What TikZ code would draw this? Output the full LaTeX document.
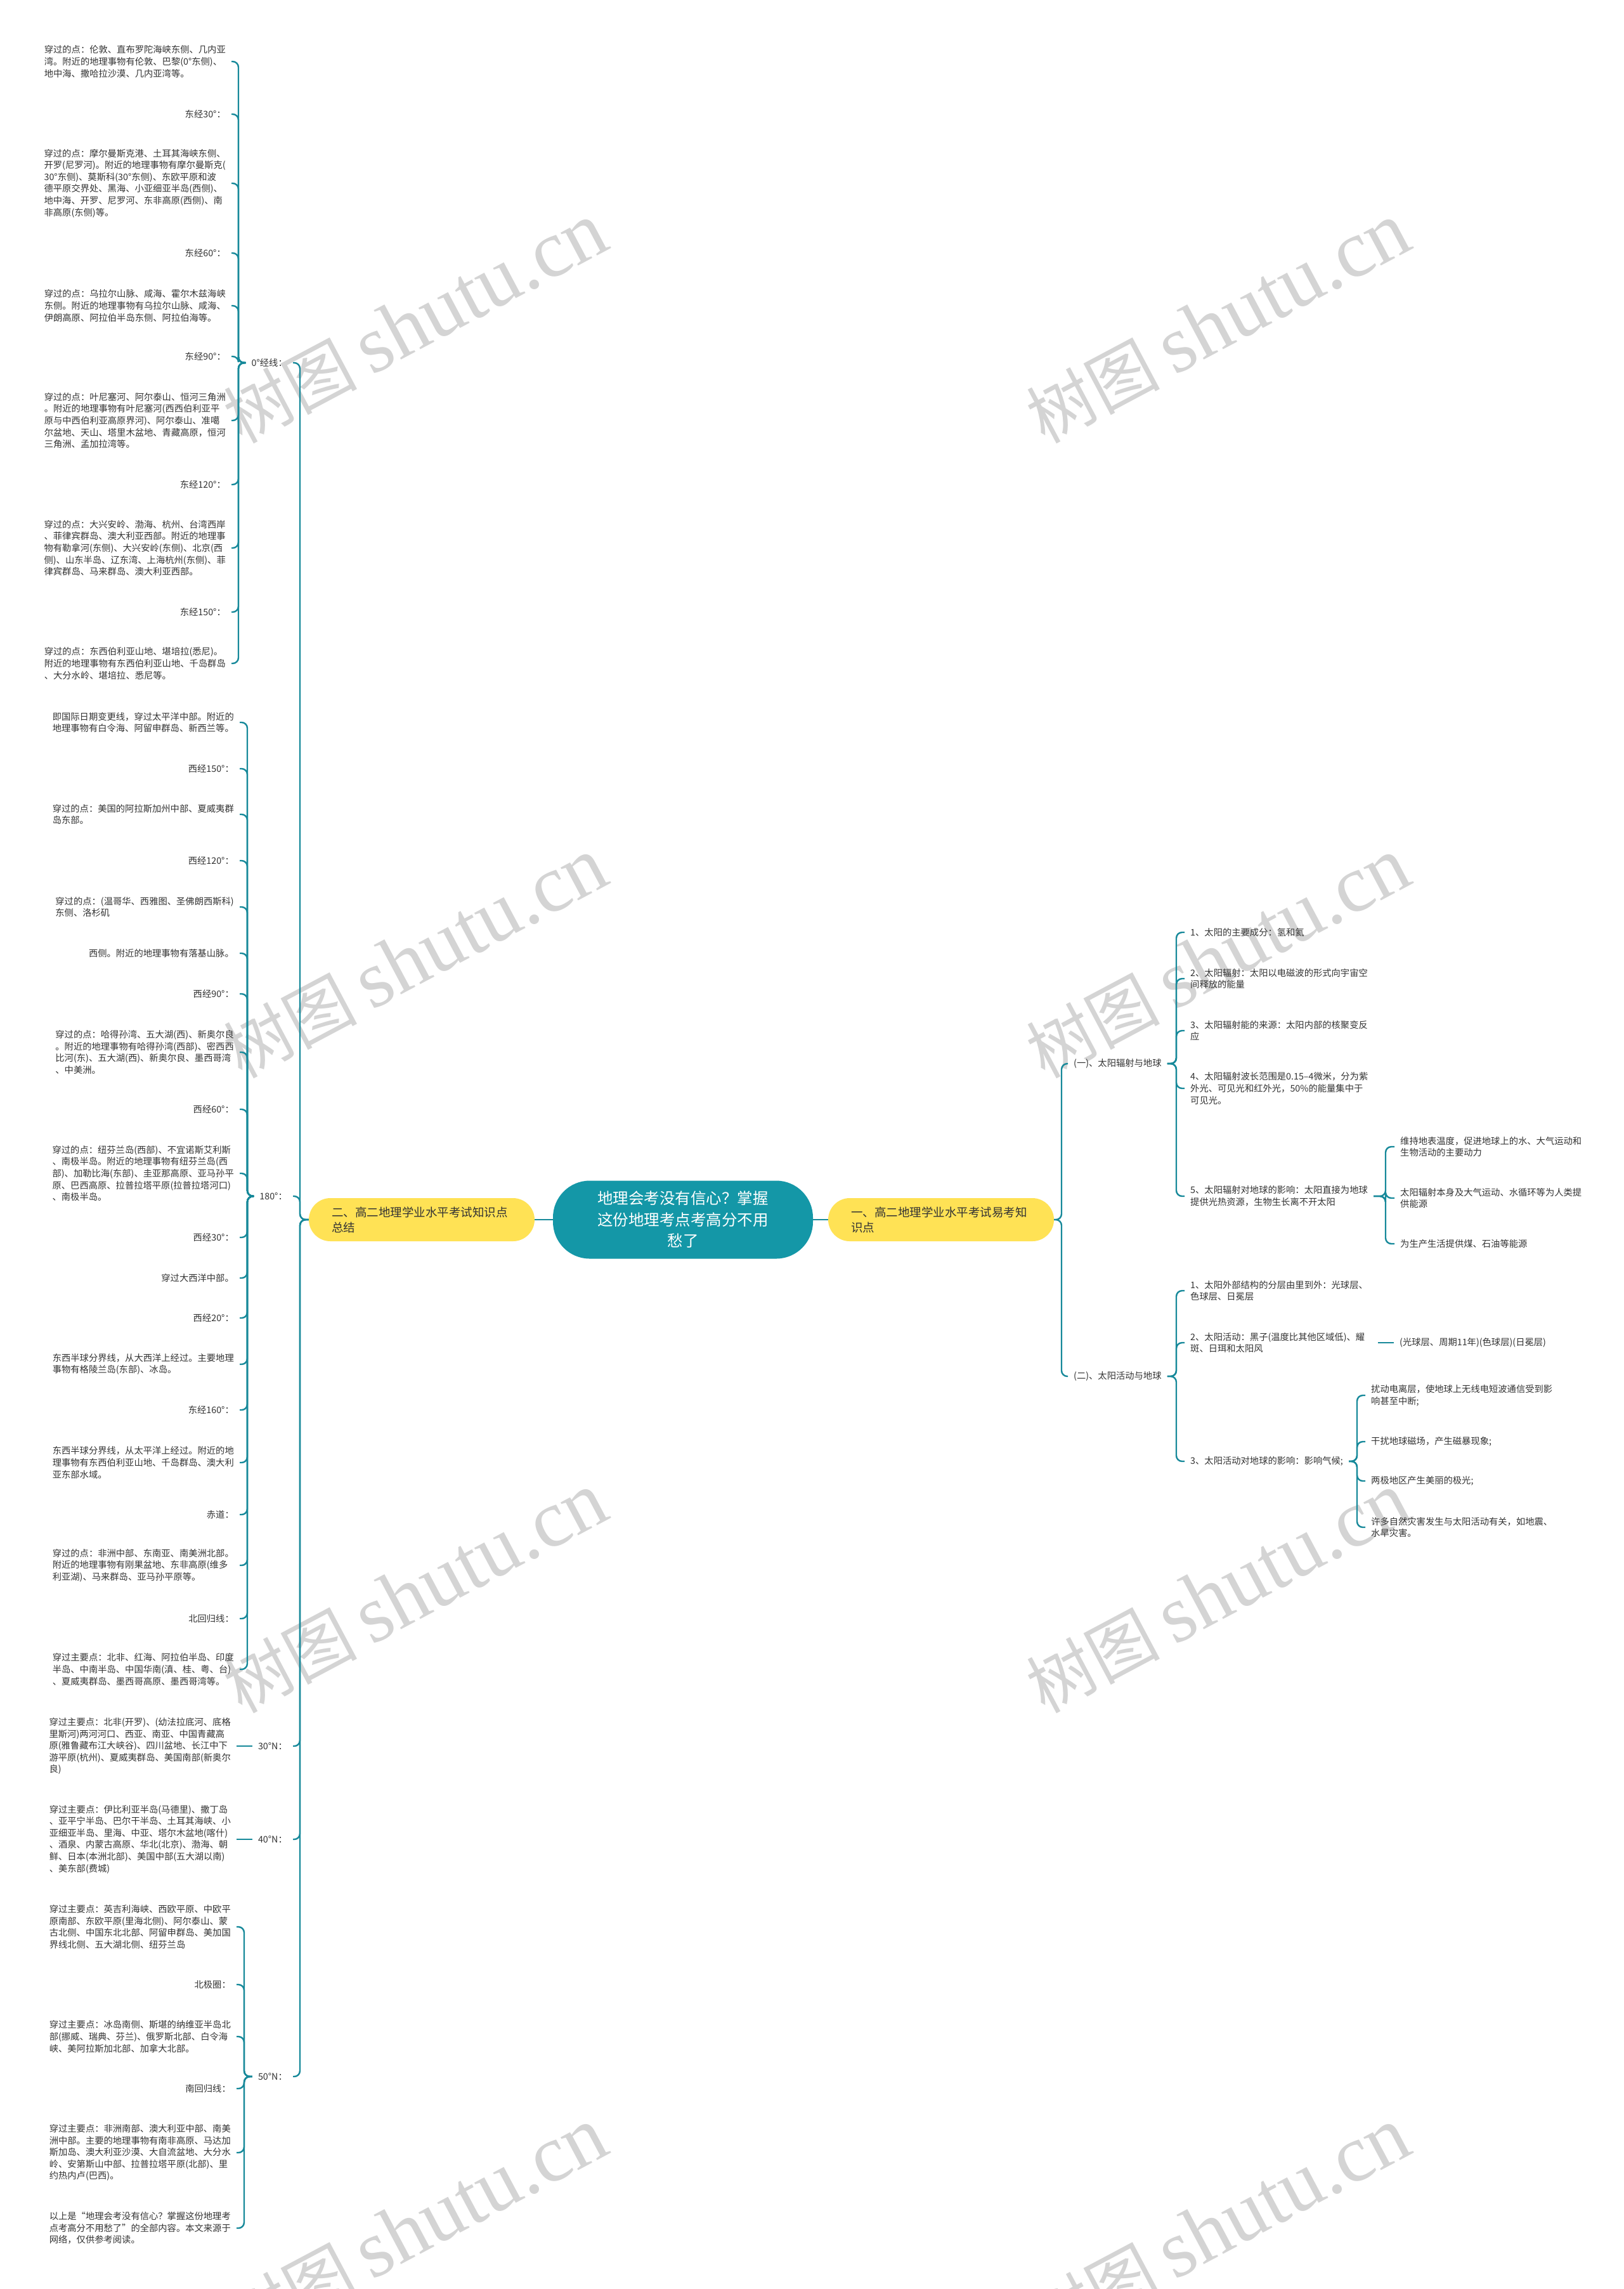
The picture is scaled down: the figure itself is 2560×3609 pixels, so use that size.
\documentclass[tikz,border=0pt]{standalone}
\usepackage{fontspec}
\setmainfont{Noto Sans CJK SC}
\newfontfamily\wmserif{Liberation Serif}
\definecolor{linec}{HTML}{17899A}
\definecolor{tealc}{HTML}{1497A7}
\definecolor{yel}{HTML}{FFE255}
\definecolor{textc}{HTML}{333333}
\definecolor{wmc}{HTML}{D4D4D4}
\tikzset{
  conn/.style={draw=linec, line width=2.4pt, rounded corners=9pt},
  txt/.style={font=\fontsize{14.3}{18.6}\selectfont, align=left, inner sep=0pt, text=textc},
  lt/.style={txt, anchor=east},
  rt/.style={txt, anchor=west},
  ynode/.style={fill=yel, rounded corners=34pt, minimum width=356pt, minimum height=68pt, text width=284pt, align=left, inner xsep=36pt, inner ysep=0pt, font=\fontsize{18.5}{24}\selectfont, text=textc},
  cnode/.style={fill=tealc, rounded corners=58pt, minimum width=410pt, minimum height=123pt, align=center, text=white, inner sep=0pt, font=\fontsize{24.5}{33.5}\selectfont},
  wm/.style={text=wmc, rotate=28, inner sep=0pt}
}
\newcommand\lcon[3]{\draw[conn] ([xshift=-9pt]#1.west) -- (#2 |- #1.west) -- (#2 |- #3.east) -- ([xshift=9pt]#3.east);}
\newcommand\rcon[3]{\draw[conn] ([xshift=9pt]#1.east) -- (#2 |- #1.east) -- (#2 |- #3.west) -- ([xshift=-9pt]#3.west);}
\newcommand\wmtext{{\fontsize{105}{105}\selectfont 树图}\hspace{22pt}{\fontsize{128}{128}\selectfont\wmserif shutu.cn}}
\begin{document}
\begin{tikzpicture}[x=1pt,y=-1pt]
\useasboundingbox (0,0) rectangle (2560,3609);
\fill[white] (0,0) rectangle (2560,3609);
% watermarks
\node[wm] (w1) at (655,510) {\wmtext};
\node[wm] (w2) at (1921,510) {\wmtext};
\node[wm] (w3) at (655,1511) {\wmtext};
\node[wm] (w4) at (1921,1511) {\wmtext};
\node[wm] (w5) at (655,2512) {\wmtext};
\node[wm] (w6) at (1921,2512) {\wmtext};
\node[wm] (w7) at (655,3513) {\wmtext};
\node[wm] (w8) at (1921,3513) {\wmtext};
% bracket coordinates
\coordinate (xa) at (376,0);
\coordinate (xb) at (390,0);
\coordinate (xe) at (385,0);
\coordinate (xt) at (473,0);
\coordinate (xR) at (1674,0);
\coordinate (xr) at (1855,0);
\coordinate (xs) at (2185,0);
\coordinate (xv) at (2140,0);
\coordinate (xu) at (2173,0);
% main nodes
\node[cnode] (C) at (1077,1923) {地理会考没有信心？掌握\\这份地理考点考高分不用\\愁了};
\node[ynode] (LY) at (665,1923) {二、高二地理学业水平考试知识点\\总结};
\node[ynode] (RY) at (1484,1923) {一、高二地理学业水平考试易考知\\识点};
% left labels
\node[lt] (L0) at (453,572) {0°经线：};
\node[lt] (L180) at (453,1886) {180°：};
\node[lt] (L30) at (453,2753) {30°N：};
\node[lt] (L40) at (453,2900) {40°N：};
\node[lt] (L50) at (453,3274) {50°N：};
% 0 deg group
\node[lt] (a1) at (356,97) {穿过的点：伦敦、直布罗陀海峡东侧、几内亚\\湾。附近的地理事物有伦敦、巴黎(0°东侧)、\\地中海、撒哈拉沙漠、几内亚湾等。};
\node[lt] (a2) at (356,180) {东经30°：};
\node[lt] (a3) at (356,289) {穿过的点：摩尔曼斯克港、土耳其海峡东侧、\\开罗(尼罗河)。附近的地理事物有摩尔曼斯克(\\30°东侧)、莫斯科(30°东侧)、东欧平原和波\\德平原交界处、黑海、小亚细亚半岛(西侧)、\\地中海、开罗、尼罗河、东非高原(西侧)、南\\非高原(东侧)等。};
\node[lt] (a4) at (356,399) {东经60°：};
\node[lt] (a5) at (356,482) {穿过的点：乌拉尔山脉、咸海、霍尔木兹海峡\\东侧。附近的地理事物有乌拉尔山脉、咸海、\\伊朗高原、阿拉伯半岛东侧、阿拉伯海等。};
\node[lt] (a6) at (356,562) {东经90°：};
\node[lt] (a7) at (356,663) {穿过的点：叶尼塞河、阿尔泰山、恒河三角洲\\。附近的地理事物有叶尼塞河(西西伯利亚平\\原与中西伯利亚高原界河)、阿尔泰山、准噶\\尔盆地、天山、塔里木盆地、青藏高原，恒河\\三角洲、孟加拉湾等。};
\node[lt] (a8) at (356,764) {东经120°：};
\node[lt] (a9) at (356,864) {穿过的点：大兴安岭、渤海、杭州、台湾西岸\\、菲律宾群岛、澳大利亚西部。附近的地理事\\物有勒拿河(东侧)、大兴安岭(东侧)、北京(西\\侧)、山东半岛、辽东湾、上海杭州(东侧)、菲\\律宾群岛、马来群岛、澳大利亚西部。};
\node[lt] (a10) at (356,965) {东经150°：};
\node[lt] (a11) at (356,1046) {穿过的点：东西伯利亚山地、堪培拉(悉尼)。\\附近的地理事物有东西伯利亚山地、千岛群岛\\、大分水岭、堪培拉、悉尼等。};
% 180 group
\node[lt] (b1) at (369,1139) {即国际日期变更线，穿过太平洋中部。附近的\\地理事物有白令海、阿留申群岛、新西兰等。};
\node[lt] (b2) at (369,1212) {西经150°：};
\node[lt] (b3) at (369,1284) {穿过的点：美国的阿拉斯加州中部、夏威夷群\\岛东部。};
\node[lt] (b4) at (369,1357) {西经120°：};
\node[lt] (b5) at (369,1430) {穿过的点：(温哥华、西雅图、圣佛朗西斯科)\\东侧、洛杉矶};
\node[lt] (b6) at (369,1503) {西侧。附近的地理事物有落基山脉。};
\node[lt] (b7) at (369,1567) {西经90°：};
\node[lt] (b8) at (369,1659) {穿过的点：哈得孙湾、五大湖(西)、新奥尔良\\。附近的地理事物有哈得孙湾(西部)、密西西\\比河(东)、五大湖(西)、新奥尔良、墨西哥湾\\、中美洲。};
\node[lt] (b9) at (369,1749) {西经60°：};
\node[lt] (b10) at (369,1850) {穿过的点：纽芬兰岛(西部)、不宜诺斯艾利斯\\、南极半岛。附近的地理事物有纽芬兰岛(西\\部)、加勒比海(东部)、圭亚那高原、亚马孙平\\原、巴西高原、拉普拉塔平原(拉普拉塔河口)\\、南极半岛。};
\node[lt] (b11) at (369,1951) {西经30°：};
\node[lt] (b12) at (369,2015) {穿过大西洋中部。};
\node[lt] (b13) at (369,2078) {西经20°：};
\node[lt] (b14) at (369,2151) {东西半球分界线，从大西洋上经过。主要地理\\事物有格陵兰岛(东部)、冰岛。};
\node[lt] (b15) at (369,2223) {东经160°：};
\node[lt] (b16) at (369,2306) {东西半球分界线，从太平洋上经过。附近的地\\理事物有东西伯利亚山地、千岛群岛、澳大利\\亚东部水域。};
\node[lt] (b17) at (369,2388) {赤道：};
\node[lt] (b18) at (369,2468) {穿过的点：非洲中部、东南亚、南美洲北部。\\附近的地理事物有刚果盆地、东非高原(维多\\利亚湖)、马来群岛、亚马孙平原等。};
\node[lt] (b19) at (369,2552) {北回归线：};
\node[lt] (b20) at (369,2632) {穿过主要点：北非、红海、阿拉伯半岛、印度\\半岛、中南半岛、中国华南(滇、桂、粤、台)\\、夏威夷群岛、墨西哥高原、墨西哥湾等。};
% 30N, 40N
\node[lt] (c1) at (364,2753) {穿过主要点：北非(开罗)、(幼法拉底河、底格\\里斯河)两河河口、西亚、南亚、中国青藏高\\原(雅鲁藏布江大峡谷)、四川盆地、长江中下\\游平原(杭州)、夏威夷群岛、美国南部(新奥尔\\良)};
\node[lt] (d1) at (364,2900) {穿过主要点：伊比利亚半岛(马德里)、撒丁岛\\、亚平宁半岛、巴尔干半岛、土耳其海峡、小\\亚细亚半岛、里海、中亚、塔尔木盆地(喀什)\\、酒泉、内蒙古高原、华北(北京)、渤海、朝\\鲜、日本(本洲北部)、美国中部(五大湖以南)\\、美东部(费城)};
% 50N group
\node[lt] (e1) at (364,3038) {穿过主要点：英吉利海峡、西欧平原、中欧平\\原南部、东欧平原(里海北侧)、阿尔泰山、蒙\\古北侧、中国东北北部、阿留申群岛、美加国\\界线北侧、五大湖北侧、纽芬兰岛};
\node[lt] (e2) at (364,3129) {北极圈：};
\node[lt] (e3) at (364,3211) {穿过主要点：冰岛南侧、斯堪的纳维亚半岛北\\部(挪威、瑞典、芬兰)、俄罗斯北部、白令海\\峡、美阿拉斯加北部、加拿大北部。};
\node[lt] (e4) at (364,3293) {南回归线：};
\node[lt] (e5) at (364,3394) {穿过主要点：非洲南部、澳大利亚中部、南美\\洲中部。主要的地理事物有南非高原、马达加\\斯加岛、澳大利亚沙漠、大自流盆地、大分水\\岭、安第斯山中部、拉普拉塔平原(北部)、里\\约热内卢(巴西)。};
\node[lt] (e6) at (364,3513) {以上是“地理会考没有信心？掌握这份地理考\\点考高分不用愁了”的全部内容。本文来源于\\网络，仅供参考阅读。};
% right side
\node[rt] (R1) at (1693,1677) {(一)、太阳辐射与地球};
\node[rt] (R2) at (1693,2170) {(二)、太阳活动与地球};
\node[rt] (r1) at (1877,1470) {1、太阳的主要成分：氢和氦};
\node[rt] (r2) at (1877,1543) {2、太阳辐射：太阳以电磁波的形式向宇宙空\\间释放的能量};
\node[rt] (r3) at (1877,1625) {3、太阳辐射能的来源：太阳内部的核聚变反\\应};
\node[rt] (r4) at (1877,1716) {4、太阳辐射波长范围是0.15–4微米，分为紫\\外光、可见光和红外光，50\%的能量集中于\\可见光。};
\node[rt] (r5) at (1877,1886) {5、太阳辐射对地球的影响：太阳直接为地球\\提供光热资源，生物生长离不开太阳};
\node[rt] (s1) at (2208,1808) {维持地表温度，促进地球上的水、大气运动和\\生物活动的主要动力};
\node[rt] (s2) at (2208,1889) {太阳辐射本身及大气运动、水循环等为人类提\\供能源};
\node[rt] (s3) at (2208,1961) {为生产生活提供煤、石油等能源};
\node[rt] (t1) at (1877,2035) {1、太阳外部结构的分层由里到外：光球层、\\色球层、日冕层};
\node[rt] (t2) at (1877,2117) {2、太阳活动：黑子(温度比其他区域低)、耀\\斑、日珥和太阳风};
\node[rt] (u1) at (2207,2117) {(光球层、周期11年)(色球层)(日冕层)};
\node[rt] (t3) at (1877,2304) {3、太阳活动对地球的影响：影响气候;};
\node[rt] (v1) at (2162,2200) {扰动电离层，使地球上无线电短波通信受到影\\响甚至中断;};
\node[rt] (v2) at (2162,2273) {干扰地球磁场，产生磁暴现象;};
\node[rt] (v3) at (2162,2335) {两极地区产生美丽的极光;};
\node[rt] (v4) at (2162,2408) {许多自然灾害发生与太阳活动有关，如地震、\\水旱灾害。};
% connectors: centre
\draw[conn] (C.west) -- (LY.east);
\draw[conn] (C.east) -- (RY.west);
% left trunk
\foreach \n in {L0,L180,L30,L40,L50}{
  \draw[conn] (LY.west) -- (xt |- LY.west) -- (xt |- \n.east) -- ([xshift=9pt]\n.east);
}
\foreach \n in {a1,a2,a3,a4,a5,a6,a7,a8,a9,a10,a11}{\lcon{L0}{xa}{\n}}
\foreach \n in {b1,b2,b3,b4,b5,b6,b7,b8,b9,b10,b11,b12,b13,b14,b15,b16,b17,b18,b19,b20}{\lcon{L180}{xb}{\n}}
\draw[conn] ([xshift=-9pt]L30.west) -- ([xshift=9pt]c1.east);
\draw[conn] ([xshift=-9pt]L40.west) -- ([xshift=9pt]d1.east);
\foreach \n in {e1,e2,e3,e4,e5,e6}{\lcon{L50}{xe}{\n}}
% right trunk
\foreach \n in {R1,R2}{
  \draw[conn] (RY.east) -- (xR |- RY.east) -- (xR |- \n.west) -- ([xshift=-9pt]\n.west);
}
\foreach \n in {r1,r2,r3,r4,r5}{\rcon{R1}{xr}{\n}}
\foreach \n in {s1,s2,s3}{\rcon{r5}{xs}{\n}}
\foreach \n in {t1,t2,t3}{\rcon{R2}{xr}{\n}}
\draw[conn] (xu |- t2.east) -- ([xshift=-9pt]u1.west);
\foreach \n in {v1,v2,v3,v4}{\rcon{t3}{xv}{\n}}
\end{tikzpicture}
\end{document}
